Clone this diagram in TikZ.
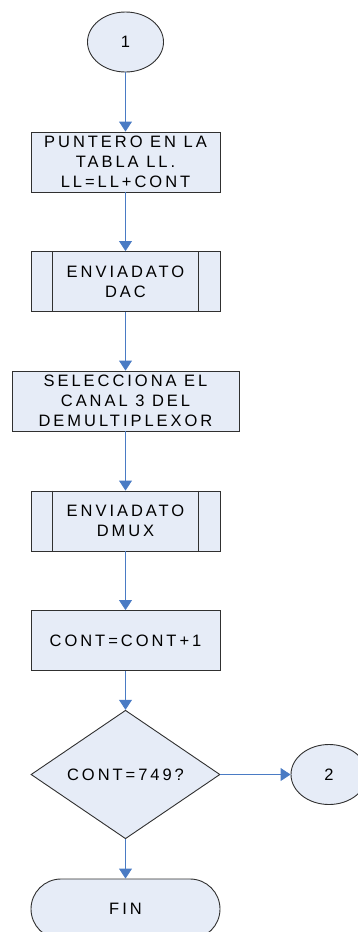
\documentclass[tikz,border=0pt]{standalone}
\usepackage{fontspec}
\newfontfamily\labfont[LetterSpace=18]{Liberation Sans}
\usetikzlibrary{shapes.geometric,shapes.misc,arrows.meta}
\definecolor{boxfill}{HTML}{E6ECF7}
\definecolor{boxline}{HTML}{303030}
\definecolor{arrowblue}{HTML}{4A7BC4}
\tikzset{
  base/.style={draw=boxline, line width=0.9pt, fill=boxfill, inner sep=0pt,
    font=\labfont\fontsize{16.5}{20}\selectfont, align=center, text=black},
  procbox/.style={base, rectangle, minimum width=189pt, minimum height=60pt},
  subbox/.style={procbox, append after command={
      ([xshift=22pt]\tikzlastnode.north west) edge[draw=boxline, line width=0.9pt] ([xshift=22pt]\tikzlastnode.south west)
      ([xshift=-22pt]\tikzlastnode.north east) edge[draw=boxline, line width=0.9pt] ([xshift=-22pt]\tikzlastnode.south east)}},
  connector/.style={base, ellipse, minimum width=76pt, minimum height=60pt},
  decision/.style={base, diamond, minimum width=189pt, minimum height=89pt},
  terminal/.style={base, rounded rectangle, minimum width=189pt, minimum height=60pt},
  flow/.style={draw=arrowblue, line width=0.9pt, -{Triangle[length=10pt, width=13pt]}},
}
\begin{document}
\begin{tikzpicture}[x=1pt, y=-1pt]
\clip (0,0) rectangle (358,932);
\node[connector] (c1) at (125.5,42) {1};
\node[procbox] (b1) at (125.5,162) {PUNTERO EN LA\\TABLA LL.\\LL=LL+CONT};
\node[subbox] (b2) at (125.5,281.5) {ENVIADATO\\DAC};
\node[procbox, minimum width=227pt] (b3) at (125.5,401) {SELECCIONA EL\\CANAL 3 DEL\\DEMULTIPLEXOR};
\node[subbox] (b4) at (125.5,521) {ENVIADATO\\DMUX};
\node[procbox] (b5) at (125.5,640.5) {CONT=CONT+1};
\node[decision] (d) at (125.5,774.5) {CONT=749?};
\node[connector] (c2) at (329,774.5) {2};
\node[terminal] (fin) at (125.5,909) {FIN};
\draw[flow] (c1) -- (b1);
\draw[flow] (b1) -- (b2);
\draw[flow] (b2) -- (b3);
\draw[flow] (b3) -- (b4);
\draw[flow] (b4) -- (b5);
\draw[flow] (b5) -- (d);
\draw[flow] (d) -- (c2);
\draw[flow] (d) -- (fin);
\end{tikzpicture}
\end{document}
